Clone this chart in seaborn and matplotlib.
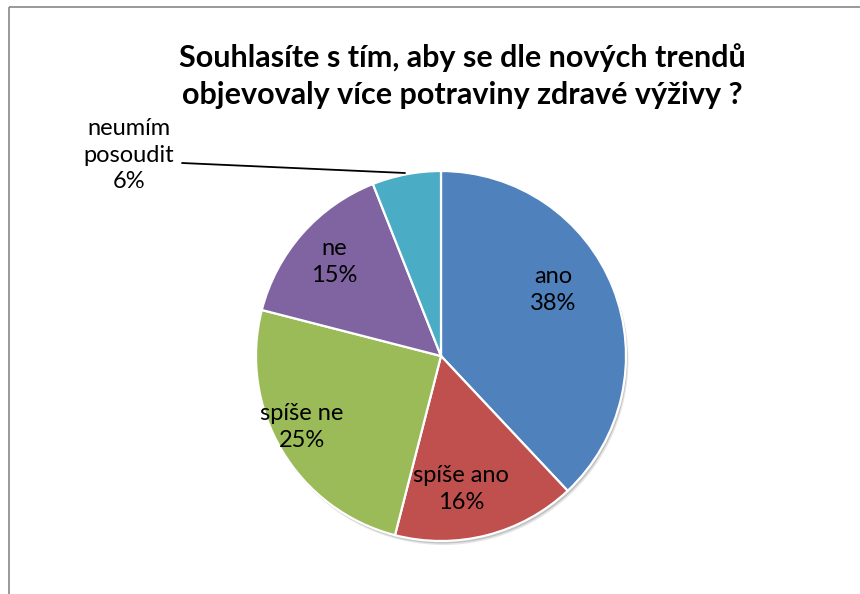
import matplotlib
matplotlib.use("Agg")
import matplotlib.pyplot as plt
from matplotlib.patches import Circle
import seaborn as sns

###############################################################################
# Data
###############################################################################
categories = ["ano", "spíše ano", "spíše ne", "ne", "neumím\nposoudit"]
shares = [38, 16, 25, 15, 6]
colors = ["#4F81BD", "#C0504D", "#9BBB59", "#8064A2", "#4BACC6"]
title = "Souhlasíte s tím, aby se dle nových trendů\nobjevovaly více potraviny zdravé výživy ?"

###############################################################################
# Figure (axes in pixel units, y measured from bottom)
###############################################################################
sns.set_theme(style="white")
plt.rcParams["font.family"] = ["Lato", "DejaVu Sans"]

W, H = 860, 594
fig = plt.figure(figsize=(W / 100, H / 100), dpi=100)
ax = fig.add_axes([0, 0, 1, 1])

# chart frame (only top and left edges are visible in the crop)
ax.plot([9, 9], [0, H - 7], color="#888888", lw=1.2, solid_capstyle="butt")
ax.plot([9, W], [H - 7, H - 7], color="#888888", lw=1.2, solid_capstyle="butt")

cx, cy, r = 441, H - 356, 185
# soft shadow behind the pie
for off, a in [(4, 0.10), (2.5, 0.15)]:
    ax.add_patch(Circle((cx + off * 0.6, cy - off), r, color="#000000",
                        alpha=a, lw=0, zorder=0.5))

wedges, _ = ax.pie(
    shares,
    colors=colors,
    startangle=90,
    counterclock=False,
    center=(cx, cy),
    radius=r,
    wedgeprops=dict(edgecolor="white", linewidth=1.6, zorder=1),
    frame=True,
)
ax.set_xlim(0, W)
ax.set_ylim(0, H)
ax.set_aspect("equal")
ax.axis("off")

# data labels (Excel "best fit" positions)
label_pos = [(553, 290), (461, 489), (302, 427), (334, 262), (129, 155)]
for cat, val, (lx, ly) in zip(categories, shares, label_pos):
    ax.text(lx, H - ly, f"{cat}\n{val}%", ha="center", va="center",
            fontsize=17, color="black", linespacing=1.3)

# leader line for the small slice
ax.plot([182, 405], [H - 163, H - 173], color="black", lw=1.3)

fig.text(462 / W, 1 - 76 / H, title, ha="center", va="center",
         fontsize=22, fontweight="bold", color="black", linespacing=1.4)

fig.savefig("out.png", dpi=100)
